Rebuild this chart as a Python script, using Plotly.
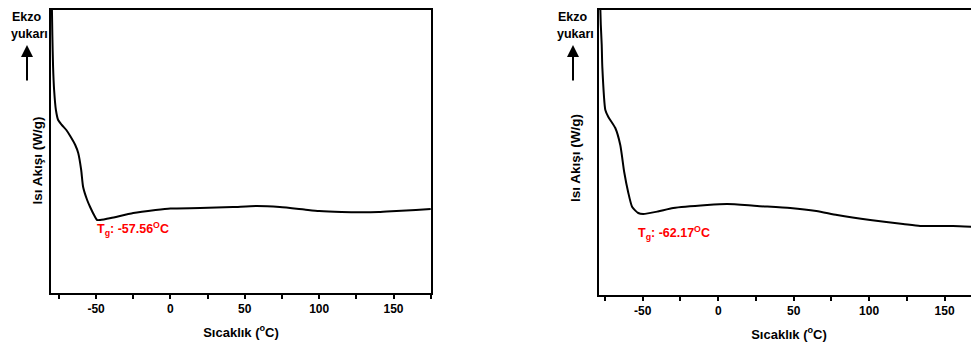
import plotly.graph_objects as go

# Left DSC curve (temperature °C, heat flow arbitrary W/g units)
t_left = [-79.8, -79.4, -78.9, -78.2, -77.0, -75.5, -73.0, -70.0, -67.4, -64.0, -62.0, -60.0,
          -58.7, -56.0, -54.0, -51.0, -49.3, -47.3, -40.0, -25.0, -10.0, 0.0, 20.0, 42.0,
          58.0, 73.5, 90.0, 100.0, 115.0, 129.0, 140.0, 152.0, 165.0, 175.0]
hf_left = [2.95, 2.58, 2.26, 2.03, 1.83, 1.73, 1.68, 1.63, 1.57, 1.48, 1.40, 1.23,
           1.06, 0.93, 0.86, 0.77, 0.73, 0.73, 0.75, 0.80, 0.83, 0.845, 0.85, 0.86,
           0.87, 0.86, 0.835, 0.82, 0.81, 0.807, 0.81, 0.82, 0.83, 0.84]

# Right DSC curve
t_right = [-78.3, -77.8, -77.2, -76.8, -74.8, -72.8, -68.2, -64.9, -62.3, -59.7, -57.0,
           -53.0, -49.7, -40.0, -29.8, -7.3, 6.0, 25.8, 47.7, 65.0, 78.8, 100.7, 122.5,
           133.8, 145.0, 155.6, 172.8]
hf_right = [2.95, 2.70, 2.50, 2.28, 1.85, 1.78, 1.67, 1.50, 1.23, 1.03, 0.88,
            0.82, 0.81, 0.835, 0.87, 0.90, 0.91, 0.89, 0.87, 0.84, 0.80, 0.75, 0.71,
            0.69, 0.69, 0.69, 0.68]

x_ticks = [-50, 0, 50, 100, 150]
tg_left = "T<sub>g</sub>: -57.56<sup>O</sup>C"
tg_right = "T<sub>g</sub>: -62.17<sup>O</sup>C"
x_title = "Sıcaklık (<sup>o</sup>C)"
y_title = "Isı Akışı (W/g)"

# page body has an 8px margin; figure fills the rest of the 979x347 window
OFF = 8
W, H = 979 - OFF, 347 - OFF
def fx(px): return (px - OFF) / W
def fy(py): return 1 - (py - OFF) / H

FONT = "Liberation Sans, Arial"
fig = go.Figure()
fig.add_trace(go.Scatter(x=t_left, y=hf_left, mode="lines",
                         line=dict(color="black", width=2, shape="spline", smoothing=0.6),
                         xaxis="x", yaxis="y", showlegend=False, hoverinfo="skip"))
fig.add_trace(go.Scatter(x=t_right, y=hf_right, mode="lines",
                         line=dict(color="black", width=2, shape="spline", smoothing=0.6),
                         xaxis="x2", yaxis="y2", showlegend=False, hoverinfo="skip"))

font_tick = dict(family=FONT, size=12, color="black")
font_title = dict(family=FONT, size=13, color="black")
xcommon = dict(showgrid=False, zeroline=False, showline=True, linecolor="black", linewidth=2,
               ticks="outside", ticklen=4, tickwidth=1.5, tickcolor="black",
               tickvals=x_ticks, ticktext=[f"<b>{v}</b>" for v in x_ticks],
               tickfont=font_tick,
               minor=dict(tickvals=[-75, -25, 25, 75, 125, 175], ticks="outside", ticklen=4,
                          tickwidth=1.5, tickcolor="black"),
               title=dict(text=f"<b>{x_title}</b>", font=font_title, standoff=12))
ycommon = dict(showgrid=False, zeroline=False, showline=True, linecolor="black", linewidth=2,
               showticklabels=False, ticks="", range=[0, 2.83])

fig.update_layout(
    width=W, height=H, margin=dict(l=0, r=0, t=0, b=0),
    paper_bgcolor="white", plot_bgcolor="white",
    xaxis=dict(xcommon, domain=[fx(51), fx(431)], range=[-80.3, 175.2], anchor="y", mirror=True),
    yaxis=dict(ycommon, domain=[fy(293), fy(10)], anchor="x", mirror=True),
    xaxis2=dict(xcommon, domain=[fx(599), 1.0], range=[-79.0, 172.8], anchor="y2", mirror=True),
    yaxis2=dict(ycommon, domain=[fy(295), fy(10)], anchor="x2", range=[0, 2.85]),
)

# y-axis titles as annotations
for xc, yc in [(27, 161), (575, 158)]:
    fig.add_annotation(x=fx(xc), y=fy(yc), xref="paper", yref="paper", text=f"<b>{y_title}</b>",
                       textangle=-90, showarrow=False, font=dict(family=FONT, size=13.5, color="black"))

# Ekzo yukarı labels and arrows
for xl, xa in [(10, 27), (556, 573)]:
    fig.add_annotation(x=fx(xl), y=fy(17), xref="paper", yref="paper", xanchor="left",
                       yanchor="middle", text="<b>Ekzo</b>", showarrow=False,
                       font=dict(family=FONT, size=12.5, color="black"))
    fig.add_annotation(x=fx(xl - 1), y=fy(34), xref="paper", yref="paper", xanchor="left",
                       yanchor="middle", text="<b>yukarı</b>", showarrow=False,
                       font=dict(family=FONT, size=12.5, color="black"))
    fig.add_annotation(x=fx(xa), y=fy(45), ax=0, ay=37, xref="paper", yref="paper",
                       axref="pixel", ayref="pixel", text="", showarrow=True,
                       arrowhead=2, arrowsize=1.2, arrowwidth=2, arrowcolor="black")

# Tg labels
fig.add_annotation(x=fx(95), y=fy(240), xref="paper", yref="paper", xanchor="left",
                   text=f"<b>{tg_left}</b>", showarrow=False,
                   font=dict(family=FONT, size=12.5, color="red"))
fig.add_annotation(x=fx(636), y=fy(233), xref="paper", yref="paper", xanchor="left",
                   text=f"<b>{tg_right}</b>", showarrow=False,
                   font=dict(family=FONT, size=12.5, color="red"))

fig.write_html("out.html")
